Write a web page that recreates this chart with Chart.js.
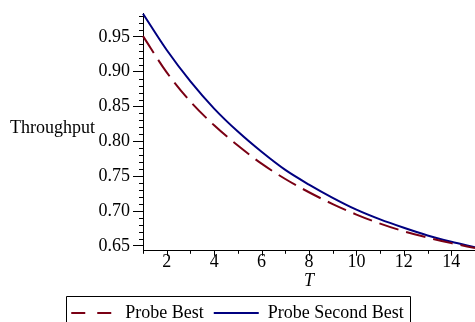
<!DOCTYPE html>
<html>
<head>
<meta charset="utf-8">
<script src="https://cdn.jsdelivr.net/npm/chart.js@4"></script>
<style>
  html, body { margin: 0; padding: 0; background: #fff; }
  #chart { display: block; }
</style>
</head>
<body>
<canvas id="chart" width="475" height="322"></canvas>
<script>
// Valores
var tValues = [1, 2, 3, 4, 5, 6, 7, 8, 9, 10, 11, 12, 13, 14, 15];
var probeBest = [0.951, 0.899, 0.857, 0.823, 0.794, 0.768, 0.746, 0.727, 0.710, 0.695, 0.682, 0.671, 0.662, 0.654, 0.647];
var probeSecondBest = [0.983, 0.931, 0.886, 0.847, 0.814, 0.785, 0.759, 0.738, 0.719, 0.702, 0.688, 0.676, 0.665, 0.656, 0.648];
var xTickValues = [2, 4, 6, 8, 10, 12, 14];
var yTickValues = [0.65, 0.70, 0.75, 0.80, 0.85, 0.90, 0.95];
var seriesNames = ['Probe Best', 'Probe Second Best'];

var serif = '"Liberation Serif", "Times New Roman", serif';
var red = 'rgb(122, 0, 20)';
var blue = 'rgb(0, 0, 128)';

function toPoints(values) {
  return tValues.map(function(t, i) { return { x: t, y: values[i] }; });
}

// Marcas do eixo x, marcas menores, rótulo do eixo y e moldura da legenda
var extras = {
  id: 'extras',
  afterDraw: function(chart) {
    var ctx = chart.ctx;
    var x = chart.scales.x, y = chart.scales.y;
    var area = chart.chartArea;
    ctx.save();
    ctx.strokeStyle = '#000';
    ctx.lineWidth = 1;
    ctx.beginPath();
    for (var v = 65; v <= 98; v++) {
      if (v % 5 === 0) continue;
      var py = Math.round(y.getPixelForValue(v / 100)) + 0.5;
      ctx.moveTo(area.left - 4, py);
      ctx.lineTo(area.left, py);
    }
    for (var t = 1; t <= 15; t++) {
      var px = Math.round(x.getPixelForValue(t)) + 0.5;
      ctx.moveTo(px, area.bottom);
      ctx.lineTo(px, area.bottom + (t % 2 === 0 ? 5 : 3));
    }
    ctx.stroke();

    ctx.fillStyle = '#000';
    ctx.font = '18px ' + serif;
    ctx.textBaseline = 'alphabetic';
    ctx.textAlign = 'left';
    ctx.fillText('Throughput', 10, 133);

    var boxes = chart.legend.legendHitBoxes;
    if (boxes && boxes.length) {
      var first = boxes[0], last = boxes[boxes.length - 1];
      var left = Math.round(first.left - 5) + 0.5;
      var right = Math.round(last.left + last.width + 6) + 0.5;
      var top = Math.round(first.top + first.height / 2 - 17) + 0.5;
      ctx.beginPath();
      ctx.moveTo(left, chart.height + 5);
      ctx.lineTo(left, top);
      ctx.lineTo(right, top);
      ctx.lineTo(right, chart.height + 5);
      ctx.stroke();
    }
    ctx.restore();
  }
};

var ctx = document.getElementById('chart').getContext('2d');
var chart = new Chart(ctx, {
  type: 'line',
  data: {
    datasets: [{
      label: seriesNames[0],
      data: toPoints(probeBest),
      borderColor: red,
      backgroundColor: red,
      borderWidth: 2,
      borderDash: [20, 8],
      pointRadius: 0,
      cubicInterpolationMode: 'monotone',
      fill: false,
      clip: 4
    }, {
      label: seriesNames[1],
      data: toPoints(probeSecondBest),
      borderColor: blue,
      backgroundColor: blue,
      borderWidth: 2,
      pointRadius: 0,
      cubicInterpolationMode: 'monotone',
      fill: false,
      clip: 4
    }]
  },
  options: {
    responsive: false,
    animation: false,
    devicePixelRatio: 1,
    layout: { padding: { top: 10, left: 0, right: 0, bottom: -10 } },
    scales: {
      x: {
        type: 'linear',
        min: 1,
        max: 15,
        afterBuildTicks: function(axis) {
          axis.ticks = xTickValues.map(function(v) { return { value: v }; });
        },
        ticks: {
          color: '#000',
          font: { family: serif, size: 18 },
          padding: 1,
          maxRotation: 0,
          callback: function(v) { return String(v); }
        },
        grid: { drawOnChartArea: false, drawTicks: false, color: '#000' },
        border: { color: '#000', width: 1 },
        title: {
          display: true,
          text: 'T',
          color: '#000',
          font: { family: serif, size: 18, style: 'italic' },
          padding: { top: -4, bottom: 2 }
        }
      },
      y: {
        min: 0.643,
        max: 0.983,
        afterBuildTicks: function(axis) {
          axis.ticks = yTickValues.map(function(v) { return { value: v }; });
        },
        afterFit: function(scale) { scale.width = 143; },
        ticks: {
          color: '#000',
          font: { family: serif, size: 18 },
          padding: 3,
          callback: function(v) { return Number(v).toFixed(2); }
        },
        grid: { drawOnChartArea: false, tickLength: 10, color: '#000', tickColor: '#000' },
        border: { color: '#000', width: 1 }
      }
    },
    plugins: {
      tooltip: { enabled: false },
      legend: {
        position: 'bottom',
        labels: {
          color: '#000',
          font: { family: serif, size: 18 },
          usePointStyle: true,
          pointStyle: 'line',
          pointStyleWidth: 45,
          padding: 10,
          generateLabels: function(chart) {
            var items = Chart.defaults.plugins.legend.labels.generateLabels(chart);
            items.forEach(function(item, i) {
              item.pointStyle = 'line';
              if (i === 0) item.lineDash = [14, 12];
            });
            return items;
          }
        }
      }
    }
  },
  plugins: [extras]
});
</script>
</body>
</html>
